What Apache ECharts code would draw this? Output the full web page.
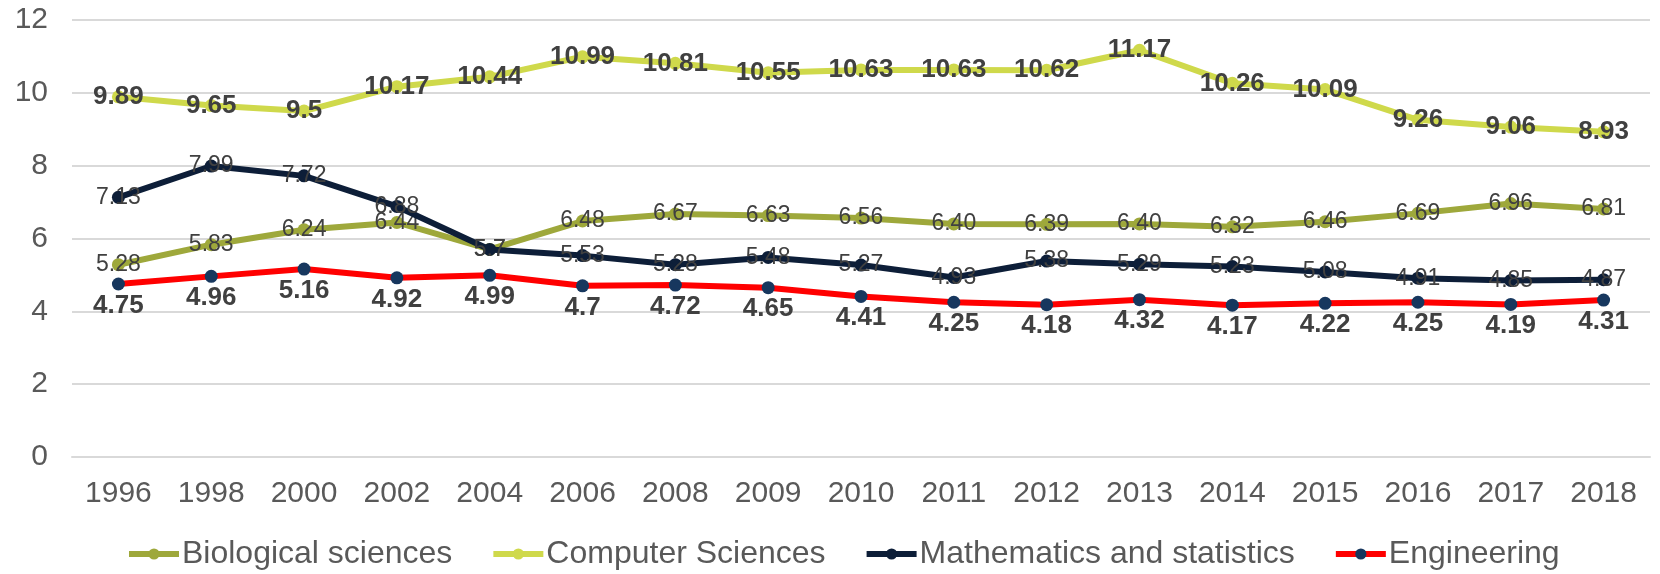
<!DOCTYPE html>
<html>
<head>
<meta charset="utf-8">
<script src="https://cdn.jsdelivr.net/npm/echarts@6/dist/echarts.min.js"></script>
<style>
html,body{margin:0;padding:0;background:#fff;}
#chart{width:1660px;height:574px;}
</style>
</head>
<body>
<div id="chart"></div>
<script>
const years = ['1996','1998','2000','2002','2004','2006','2008','2009','2010','2011','2012','2013','2014','2015','2016','2017','2018'];
const seriesNames = ['Biological sciences','Computer Sciences','Mathematics and statistics','Engineering'];
const biological = ['5.28','5.83','6.24','6.44','5.7','6.48','6.67','6.63','6.56','6.40','6.39','6.40','6.32','6.46','6.69','6.96','6.81'];
const computer = [9.89,9.65,9.5,10.17,10.44,10.99,10.81,10.55,10.63,10.63,10.62,11.17,10.26,10.09,9.26,9.06,8.93];
const mathematics = [7.13,7.99,7.72,6.88,5.7,5.53,5.28,5.48,5.27,4.93,5.38,5.29,5.23,5.08,4.91,4.85,4.87];
const engineering = [4.75,4.96,5.16,4.92,4.99,4.7,4.72,4.65,4.41,4.25,4.18,4.32,4.17,4.22,4.25,4.19,4.31];
const yTicks = {min:0, max:12, interval:2};

const FONT = 'Liberation Sans, Arial, sans-serif';
const chart = echarts.init(document.getElementById('chart'), null, {renderer:'canvas'});
function lineSeries(name, data, lineColor, markerColor, label, z){
  return {
    name, type:'line', data, z,
    symbol:'circle', symbolSize:13, showAllSymbol:true,
    lineStyle:{color:lineColor, width:6},
    itemStyle:{color:markerColor},
    emphasis:{disabled:true},
    label:Object.assign({show:true, color:'#404040', fontFamily:FONT}, label),
    labelLayout:{hideOverlap:false},
    animation:false
  };
}
chart.setOption({
  backgroundColor:'#ffffff',
  animation:false,
  grid:{left:72, right:10, top:20, bottom:117, containLabel:false},
  xAxis:{
    type:'category', data:years, boundaryGap:true,
    axisLine:{show:true, lineStyle:{color:'#D9D9D9', width:2}},
    axisTick:{show:false},
    axisLabel:{color:'#595959', fontSize:30, fontFamily:FONT, margin:22}
  },
  yAxis:{
    type:'value', min:yTicks.min, max:yTicks.max, interval:yTicks.interval,
    axisLine:{show:false}, axisTick:{show:false},
    splitLine:{lineStyle:{color:'#D9D9D9', width:2}},
    axisLabel:{color:'#595959', fontSize:30, fontFamily:FONT, margin:24}
  },
  legend:{
    data:seriesNames, left:121, top:533, itemWidth:50, itemHeight:14, itemGap:38,
    lineStyle:{width:6},
    textStyle:{color:'#595959', fontSize:32, fontFamily:FONT, padding:[0,0,0,-2]}
  },
  series:[
    lineSeries(seriesNames[0], biological.map(Number), '#9EA83B', '#9EA83B',
      {position:'inside', offset:[0,4], fontSize:23, formatter:p=>biological[p.dataIndex]}, 2),
    lineSeries(seriesNames[1], computer, '#CFD94B', '#CFD94B',
      {position:'inside', fontSize:26, fontWeight:'bold'}, 3),
    lineSeries(seriesNames[2], mathematics, '#0D1E38', '#0D1E38',
      {position:'inside', offset:[0,2], fontSize:23}, 4),
    lineSeries(seriesNames[3], engineering, '#FF0000', '#17375E',
      {position:'bottom', distance:2, fontSize:26, fontWeight:'bold'}, 5)
  ]
});
</script>
</body>
</html>
